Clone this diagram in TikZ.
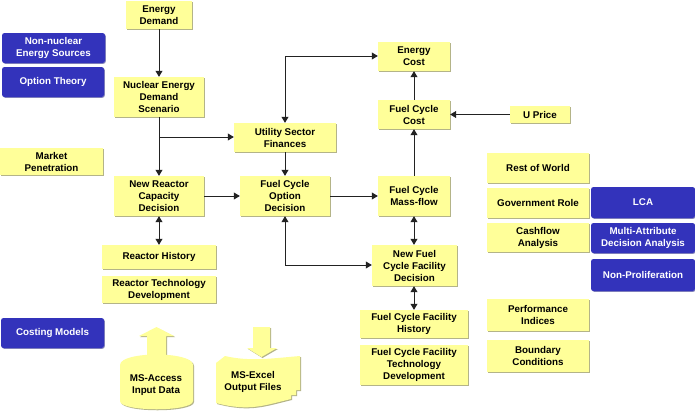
\documentclass[tikz,border=0pt]{standalone}
\usepackage{fontspec}
\setmainfont{Liberation Sans}
\usetikzlibrary{arrows.meta,shadows,shapes.geometric}
\definecolor{boxy}{HTML}{FFFF99}
\definecolor{boxb}{HTML}{3333BB}
\definecolor{shady}{HTML}{B4B488}
\definecolor{shadb}{HTML}{8888BB}
\definecolor{linec}{HTML}{222222}
\tikzset{
  base/.style={align=center,inner sep=0pt,font=\bfseries\fontsize{9.8}{12}\selectfont},
  ybox/.style={base,fill=boxy,text=black,drop shadow={shadow xshift=1pt,shadow yshift=-1pt,fill=shady,opacity=1}},
  bbox/.style={base,fill=boxb,text=white,rounded corners=2.5pt,drop shadow={shadow xshift=0.8pt,shadow yshift=-0.8pt,fill=shadb,opacity=1}},
  link/.style={draw=linec,line width=0.8pt,-{Triangle[length=6pt,width=7pt]}},
  dbl/.style={draw=linec,line width=0.8pt,{Triangle[length=6pt,width=7pt]}-{Triangle[length=6pt,width=7pt]}},
  blockarrow/.style={fill=boxy,draw=none,drop shadow={shadow xshift=1pt,shadow yshift=-1pt,fill=shady,opacity=1}},
}
\newcommand{\bx}[7]{%
  \pgfmathsetmacro{\cxx}{(#3+#5)/2}\pgfmathsetmacro{\cyy}{(#4+#6)/2}%
  \pgfmathsetmacro{\wdd}{#5-#3}\pgfmathsetmacro{\htt}{#6-#4}%
  \node[#2,minimum width=\wdd pt,minimum height=\htt pt] (#1) at (\cxx,\cyy) {#7};}
\begin{document}
\begin{tikzpicture}[x=1pt,y=-1pt]
\useasboundingbox (0,0) rectangle (695,410);
\fill[white] (0,0) rectangle (695,410);
% yellow boxes
\bx{ed}{ybox}{126}{1}{192}{29}{Energy\\Demand}
\bx{nu}{ybox}{114}{77}{204}{117}{Nuclear Energy\\Demand\\Scenario}
\bx{mp}{ybox}{0}{148}{103}{175}{Market\\Penetration}
\bx{nr}{ybox}{114}{176}{204}{216}{New Reactor\\Capacity\\Decision}
\bx{rh}{ybox}{102}{245}{216}{269}{Reactor History}
\bx{rt}{ybox}{102}{276}{216}{303}{Reactor Technology\\Development}
\bx{us}{ybox}{234}{123}{336}{152}{Utility Sector\\Finances}
\bx{fo}{ybox}{240}{176}{330}{216}{Fuel Cycle\\Option\\Decision}
\bx{ec}{ybox}{378}{42}{450}{71}{Energy\\Cost}
\bx{fc}{ybox}{378}{100}{450}{129}{Fuel Cycle\\Cost}
\bx{up}{ybox}{510}{106}{570}{123}{U Price}
\bx{fm}{ybox}{378}{176}{450}{216}{Fuel Cycle\\Mass-flow}
\bx{nf}{ybox}{372}{245}{457}{286}{New Fuel\\Cycle Facility\\Decision}
\bx{fh}{ybox}{360}{310}{468}{338}{Fuel Cycle Facility\\History}
\bx{ft}{ybox}{360}{345}{468}{385}{Fuel Cycle Facility\\Technology\\Development}
\bx{rw}{ybox}{487}{153}{589}{183}{Rest of World}
\bx{gr}{ybox}{487}{188}{589}{218}{Government Role}
\bx{ca}{ybox}{487}{223}{589}{252}{Cashflow\\Analysis}
\bx{pi}{ybox}{487}{299}{589}{331}{Performance\\Indices}
\bx{bc}{ybox}{487}{340}{589}{372}{Boundary\\Conditions}
% blue boxes
\bx{nn}{bbox}{2}{33}{105}{63}{Non-nuclear\\Energy Sources}
\bx{ot}{bbox}{2}{67}{104}{97}{Option Theory}
\bx{cm}{bbox}{1}{318}{104}{348}{Costing Models}
\bx{lc}{bbox}{591}{187}{695}{218}{LCA}
\bx{ma}{bbox}{591}{223}{695}{253}{Multi-Attribute\\Decision Analysis}
\bx{np}{bbox}{591}{259}{695}{291}{Non-Proliferation}
% connectors
\coordinate (jn) at (159,137);
\coordinate (ju) at (285,56);
\coordinate (jf) at (285,265);
\draw[link] (ed.south) -- (nu.north);
\draw[link] (nu.south) -- (nr.north);
\draw[link] (jn) -- (jn -| us.west);
\draw[link] (nr.east) -- (fo.west);
\draw[dbl] (nr.south) -- (rh.north);
\draw[dbl] (us.north) -- (ju) -- (ju -| ec.west);
\draw[link] (us.south) -- (fo.north);
\draw[link] (fo.east) -- (fm.west);
\draw[dbl] (fo.south) -- (jf) -- (jf -| nf.west);
\draw[link] (fc.north) -- (ec.south);
\draw[link] (fm.north) -- (fc.south);
\draw[link] (up.west) -- (fc.east |- up.west);
\draw[dbl] (fm.south) -- (fm.south |- nf.north);
\draw[dbl] (nf.south -| fh.north) -- (fh.north);
% access cylinder
\path[blockarrow] (156.5,327) -- (174,336) -- (166,336) -- (166,364) -- (147,364) -- (147,336) -- (139,336) -- cycle;
\path[fill=boxy,drop shadow={shadow xshift=1pt,shadow yshift=-1pt,fill=shady,opacity=1}]
  (120,365) .. controls (120,351) and (193,351) .. (193,365) -- (193,401)
  .. controls (193,412) and (120,412) .. (120,401) -- cycle;
\node[base] (ac) at (156,385) {MS-Access\\Input Data};
% excel files
\path[blockarrow] (253,327) -- (270,327) -- (270,348) -- (277,348) -- (261.5,357) -- (247,348) -- (253,348) -- cycle;
\path[fill=boxy,drop shadow={shadow xshift=1pt,shadow yshift=-1pt,fill=shady,opacity=1}]
  (216,363) -- (225,356) .. controls (250,362) and (275,358) .. (300,356) -- (300,390) -- (296,390) -- (296,395) -- (291,395) -- (291,399)
  .. controls (265,405) and (250,412) .. (216,403) -- cycle;
\node[base] (ex) at (253,382) {MS-Excel\\Output Files};
\end{tikzpicture}
\end{document}
